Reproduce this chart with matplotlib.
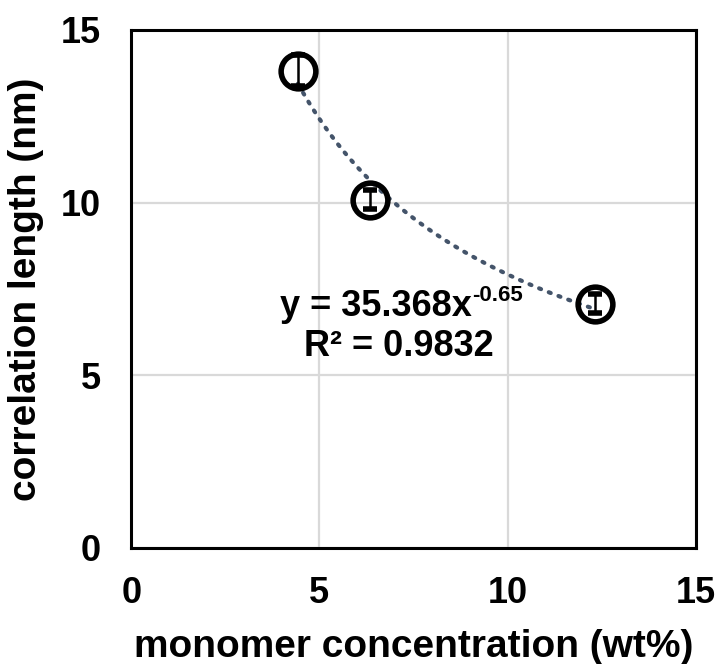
import numpy as np
import matplotlib.pyplot as plt

# data
conc = [4.43, 6.34, 12.33]
corr_len = [13.82, 10.08, 7.07]
err = [0.45, 0.27, 0.27]

# power-law trendline y = a * x^b
a, b = 35.368, -0.65

plt.rcParams["font.family"] = ["Liberation Sans", "DejaVu Sans"]
plt.rcParams["font.weight"] = "bold"

fig = plt.figure(figsize=(7.21, 6.64), dpi=100)
ax = fig.add_axes([0.182, 0.175, 0.783, 0.78])

xfit = np.linspace(min(conc), max(conc), 200)
ax.plot(xfit, a * xfit ** b, linestyle=(0, (0.5, 2.0)), color="#44546A", linewidth=3.0,
        dash_capstyle="round", zorder=2)

ax.errorbar(conc, corr_len, yerr=err, fmt="o", markersize=25, markerfacecolor="none",
            markeredgecolor="black", markeredgewidth=4.0, ecolor="black",
            elinewidth=1.8, capsize=5, capthick=1.8, zorder=3)

# trendline equation, superscript placed next to the main text
t1 = ax.text(9.05, 6.72, "y = 35.368x", ha="right", va="baseline",
             fontsize=26, fontweight="bold")
ax.annotate("-0.65", xy=(1, 1), xycoords=t1, xytext=(0.5, 3),
            textcoords="offset points", ha="left", va="top",
            fontsize=16, fontweight="bold")
ax.text(7.1, 5.55, "R² = 0.9832", ha="center", va="baseline",
        fontsize=26, fontweight="bold")

ax.set_xlim(0, 15)
ax.set_ylim(0, 15)
ax.set_xticks([0, 5, 10, 15])
ax.set_yticks([0, 5, 10, 15])
ax.grid(color="#D9D9D9", linewidth=1.6)
ax.set_axisbelow(True)
ax.tick_params(length=0, labelsize=26)
ax.tick_params(axis="y", pad=22)
ax.tick_params(axis="x", pad=20)
for lbl in ax.get_xticklabels() + ax.get_yticklabels():
    lbl.set_fontweight("bold")
for s in ax.spines.values():
    s.set_color("black")
    s.set_linewidth(2.2)

ax.set_xlabel("monomer concentration (wt%)", fontsize=28, fontweight="bold", labelpad=13)
ax.set_ylabel("correlation length (nm)", fontsize=28, fontweight="bold", labelpad=12)

plt.savefig("out.png", dpi=100)
